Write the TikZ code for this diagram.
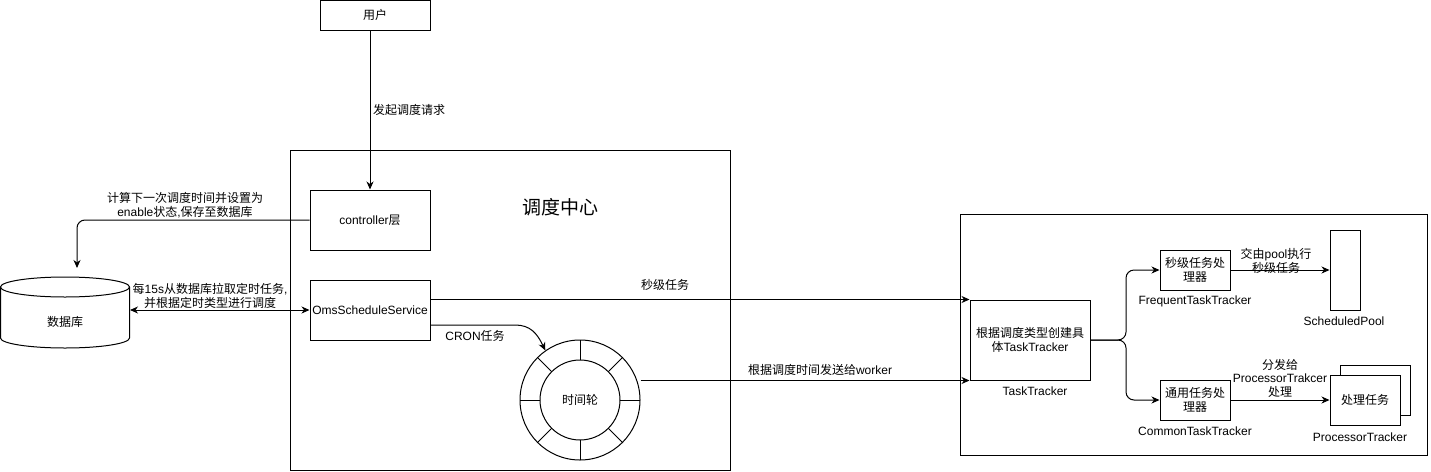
\documentclass[tikz,border=0pt]{standalone}
\usepackage{fontspec}
\setmainfont{Liberation Sans}
\newfontfamily\zhfont{Noto Sans CJK SC}
\newcommand\zh[1]{{\zhfont #1}}
\usetikzlibrary{arrows.meta,calc}
\begin{document}
\begin{tikzpicture}[x=1pt,y=-1pt,line width=1pt,
  font=\fontsize{12}{14.5}\selectfont,
  >={Stealth[length=8pt,width=7pt,inset=2.5pt]},
  box/.style={draw,fill=white,align=center,inner sep=1pt},
  lbl/.style={align=center,inner sep=0pt}]
\useasboundingbox (0,0) rectangle (1431,471);
% containers
\node[draw,minimum width=440,minimum height=320] (sc) at (510,310) {};
\node[draw,minimum width=467,minimum height=241] (rc) at (1193.5,334.5) {};
\node[lbl,font=\fontsize{19}{22}\selectfont] (title) at (560,207) {\zh{调度中心}};
% user
\node[box,minimum width=110,minimum height=30] (user) at (375,15) {\zh{用户}};
\node[box,minimum width=120,minimum height=60] (ctrl) at (370,220) {controller\zh{层}};
\node[box,minimum width=120,minimum height=60] (oms) at (370,310) {OmsScheduleService};
% database
\fill[white] (0.5,287) -- (0.5,338) arc[start angle=180,end angle=360,x radius=64.5pt,y radius=10pt] -- (129.5,287) -- cycle;
\draw (0.5,287) -- (0.5,338) arc[start angle=180,end angle=360,x radius=64.5pt,y radius=10pt] -- (129.5,287);
\draw[fill=white] (65,287) ellipse[x radius=64.5pt,y radius=10pt];
\node[lbl] (db) at (65,322) {\zh{数据库}};
\coordinate (dbtop) at (77,268);
\coordinate (dbE) at (130,311);
% time wheel
\node[draw,circle,minimum size=120,inner sep=0] (wheelO) at (580,400) {};
\node[draw,circle,minimum size=80,inner sep=0] (wheelI) at (580,400) {\zh{时间轮}};
\foreach \a in {0,45,...,315} \draw (wheelI.center) ++(\a:40pt) -- ++(\a:20pt);
% right side
\node[box,minimum width=120,minimum height=80] (tt) at (1030,340) {\zh{根据调度类型创建具}\\\zh{体}TaskTracker};
\node[lbl] (ttl) at (1035,391) {TaskTracker};
\node[box,minimum width=70,minimum height=40] (freq) at (1195,270) {\zh{秒级任务处}\\\zh{理器}};
\node[lbl] (freql) at (1195,301) {FrequentTaskTracker};
\node[box,minimum width=70,minimum height=40] (comm) at (1195,400) {\zh{通用任务处}\\\zh{理器}};
\node[lbl] (comml) at (1195,431) {CommonTaskTracker};
\node[box,minimum width=30,minimum height=80] (pool) at (1345,270) {};
\node[lbl] (pooll) at (1344,321) {ScheduledPool};
\node[box,minimum width=70,minimum height=50] (procB) at (1375,390) {};
\node[box,minimum width=70,minimum height=50] (proc) at (1365,400) {\zh{处理任务}};
\node[lbl] (procl) at (1360,437) {ProcessorTracker};
% connectors
\draw[->] (user.south -| ctrl) -- (ctrl);
\node[lbl] (l1) at (409,110) {\zh{发起调度请求}};
\draw[->,rounded corners=8] (ctrl.west) -- (dbtop |- ctrl.west) -- (dbtop);
\node[lbl] (l2) at (185,205) {\zh{计算下一次调度时间并设置为}\\enable\zh{状态},\zh{保存至数据库}};
\draw[<->] (oms.west) -- (oms.west -| dbE);
\node[lbl] (l3) at (210,296) {\zh{每}15s\zh{从数据库拉取定时任务},\\\zh{并根据定时类型进行调度}};
\draw[->] (oms.east |- tt.north west) -- (tt.north west);
\node[lbl] (l4) at (665,285) {\zh{秒级任务}};
\draw[->] ([yshift=-15pt]oms.east) -- (515,325) .. controls (530,325) and (537,333) .. (wheelO.125);
\node[lbl] (l5) at (475,336) {CRON\zh{任务}};
\draw[->] (wheelO.east |- tt.south west) -- (tt.south west);
\node[lbl] (l6) at (820,370) {\zh{根据调度时间发送给}worker};
\draw[->,rounded corners=8] (tt.east) -- (1126,340) -- (1126,270) -- (freq.west);
\draw[->,rounded corners=8] (tt.east) -- (1126,340) -- (1126,400) -- (comm.west);
\draw[->] (freq.east) -- (pool.west);
\node[lbl] (l7) at (1276,261) {\zh{交由}pool\zh{执行}\\\zh{秒级任务}};
\draw[->] (comm.east) -- (proc.west);
\node[lbl,font=\fontsize{12}{13.5}\selectfont] (l8) at (1280,378) {\zh{分发给}\\ProcessorTrakcer\\\zh{处理}};
\end{tikzpicture}
\end{document}
